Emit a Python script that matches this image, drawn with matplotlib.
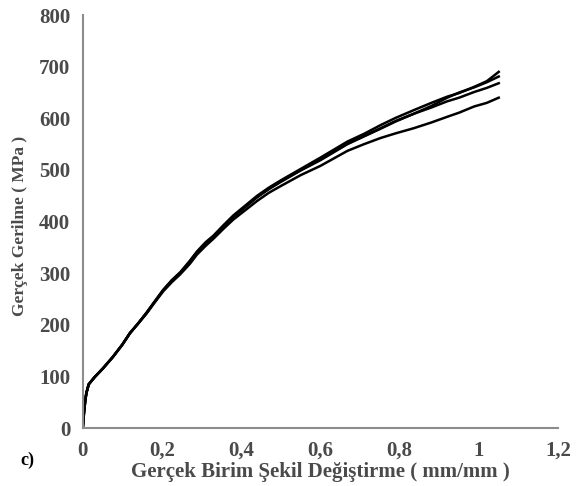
import matplotlib
matplotlib.use("Agg")
import matplotlib.pyplot as plt

# strain (mm/mm) and true stress (MPa), four test specimens
strain = [0.0, 0.003, 0.006, 0.009, 0.015, 0.03, 0.05, 0.076, 0.10, 0.119,
          0.14, 0.161, 0.18, 0.203, 0.225, 0.246, 0.27, 0.288, 0.31, 0.33,
          0.355, 0.38, 0.41, 0.44, 0.47, 0.5, 0.55, 0.60, 0.668, 0.71,
          0.752, 0.79, 0.836, 0.88, 0.92, 0.95, 0.988, 1.02, 1.05]
stress_s1 = [0, 30, 52, 68, 85, 99, 115, 138, 162, 184,
             203, 224, 244, 268, 287, 302, 324, 342, 360, 373,
             393, 412, 431, 450, 466, 480, 502, 524, 555, 570,
             587, 601, 616, 630, 642, 649, 661, 672, 690]
stress_s2 = [0, 30, 52, 68, 85, 99, 115, 138, 162, 184,
             203, 223, 243, 267, 285, 300, 321, 339, 357, 371,
             390, 409, 428, 447, 463, 477, 499, 519, 550, 565,
             580, 594, 609, 621, 633, 640, 651, 659, 668]
stress_s3 = [0, 30, 52, 68, 85, 99, 115, 138, 162, 184,
             203, 223, 243, 267, 286, 301, 322, 340, 358, 372,
             391, 410, 429, 448, 464, 478, 500, 521, 551, 566,
             581, 595, 609, 624, 640, 650, 660, 670, 681]
stress_s4 = [0, 30, 52, 68, 85, 99, 115, 138, 162, 184,
             203, 222, 242, 265, 283, 298, 318, 336, 353, 367,
             386, 404, 422, 440, 456, 469, 490, 508, 537, 550,
             562, 571, 581, 592, 603, 611, 623, 630, 640]

xticks = [0, 0.2, 0.4, 0.6, 0.8, 1.0, 1.2]
xtick_labels = ["0", "0,2", "0,4", "0,6", "0,8", "1", "1,2"]
yticks = [0, 100, 200, 300, 400, 500, 600, 700, 800]

plt.rcParams['font.family'] = ['Liberation Serif', 'DejaVu Serif']

fig = plt.figure(figsize=(5.79, 4.86), dpi=100)
ax = fig.add_axes([0.143, 0.119, 0.821, 0.850])

for stress in (stress_s1, stress_s2, stress_s3, stress_s4):
    ax.plot(strain, stress, color='black', lw=1.8)

ax.set_xlim(0, 1.2)
ax.set_ylim(0, 800)
ax.set_xticks(xticks)
ax.set_xticklabels(xtick_labels)
ax.set_yticks(yticks)

for side in ('top', 'right'):
    ax.spines[side].set_visible(False)
for side in ('left', 'bottom'):
    ax.spines[side].set_color('#8c8c8c')
    ax.spines[side].set_linewidth(1.5)

ax.tick_params(length=0, labelsize=15, labelcolor='#4a4a4a')
ax.tick_params(axis='x', pad=9)
ax.tick_params(axis='y', pad=9)
for lab in ax.get_xticklabels() + ax.get_yticklabels():
    lab.set_fontweight('bold')

ax.set_xlabel('Gerçek Birim Şekil Değiştirme ( mm/mm )', fontsize=15,
              fontweight='bold', color='#4a4a4a', labelpad=1)
ax.set_ylabel('Gerçek Gerilme ( MPa )', fontsize=12.5, fontweight='bold',
              color='#4a4a4a', labelpad=6)
ax.yaxis.set_label_coords(-0.115, 0.49)

fig.text(0.035, 0.043, 'c)', fontsize=13, fontweight='bold', color='black')

fig.savefig('out.png', dpi=100)
